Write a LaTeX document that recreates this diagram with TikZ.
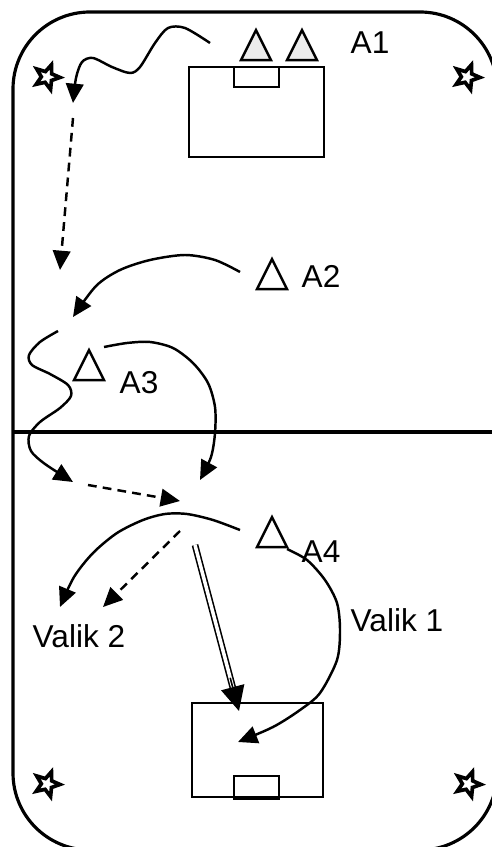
\documentclass[tikz,border=0pt]{standalone}
\usepackage{fontspec}
\setmainfont{Liberation Sans}
\usetikzlibrary{arrows.meta,shapes.geometric,calc}

\begin{document}
\begin{tikzpicture}[x=0.02cm, y=-0.02cm, >={Triangle[length=11pt,width=10pt]},
  every node/.style={font=\fontsize{18}{20}\selectfont, inner sep=0pt},
  field/.style={line width=1.8pt, rounded corners=1.54cm},
  goal/.style={draw, line width=1.4pt},
  player/.style={draw, line width=1.4pt, isosceles triangle, isosceles triangle stretches, shape border rotate=90, minimum width=0.6cm, minimum height=0.6cm, anchor=apex},
  cone/.style={draw, line width=2.1pt, star, star points=5, star point ratio=2.3, minimum size=0.52cm, shape border rotate=-20},
  run/.style={line width=1.4pt},
  pass/.style={line width=1.4pt, dash pattern=on 5pt off 3.5pt},
  shot/.style={double, line width=0.9pt, double distance=2pt}]
\useasboundingbox (0,0) rectangle (491,847);
\draw[field] (13,12) rectangle (497,850);
\draw[line width=2.2pt] (13,432) -- (497,432);
\draw[goal] (189,67) rectangle (324,157);
\draw[goal] (234,67) rectangle (279,87);
\draw[goal] (192,703) rectangle (323,797);
\draw[goal] (234,776) rectangle (279,799);
\node[cone] (c1) at (47,77) {};
\node[cone] (c2) at (467,77) {};
\node[cone] (c3) at (47,784) {};
\node[cone] (c4) at (468,784) {};
\node[player, fill=gray!15] (p1a) at (256,27) {};
\node[player, fill=gray!15] (p1b) at (302,27) {};
\node[player] (p2) at (272,256) {};
\node[player] (p3) at (89,347) {};
\node[player] (p4) at (272,514) {};
\node (a1) at (370,43) {A1};
\node (a2) at (321,276) {A2};
\node (a3) at (139,383) {A3};
\node (a4) at (321,552) {A4};
\node (v1) at (397,620) {Valik 1};
\node (v2) at (79,636) {Valik 2};
\draw[run,->] plot[smooth] coordinates {(210,43) (185,28) (168,28) (155,43) (140,67) (130,73) (112,67) (93,58) (82,62) (76,78) (73,103)};
\draw[pass,->] (73,118) -- (60,270);
\draw[run,->] plot[smooth] coordinates {(240,272) (215,260) (185,255) (150,260) (120,270) (96,286) (73,317)};
\draw[run,->] plot[smooth] coordinates {(58,331) (40,342) (29,355) (32,365) (50,374) (68,385) (71,396) (60,408) (40,422) (29,436) (31,451) (45,464) (73,482)};
\draw[run,->] plot[smooth] coordinates {(104,347) (127,343) (150,342) (173,348) (193,363) (208,383) (215,407) (215,433) (211,457) (200,480)};
\draw[pass,->] (88,485) -- (180,501);
\draw[run,->] plot[smooth] coordinates {(240,530) (213,520) (187,514) (165,514) (143,520) (117,533) (93,553) (74,577) (60,607)};
\draw[pass,->] (180,531) -- (103,607);
\coordinate (s0) at (195,545);
\coordinate (s1) at (239,711);
\draw[shot, shorten >=12pt] (s0) -- (s1);
\draw[line width=0.9pt, -{Triangle[length=14pt,width=13.5pt]}] ($(s0)!0.8!(s1)$) -- (s1);
\draw[run,->] plot[smooth] coordinates {(287,549) (307,560) (325,580) (337,603) (340,630) (337,660) (320,693) (300,710) (273,727) (238,742)};
\end{tikzpicture}
\end{document}
